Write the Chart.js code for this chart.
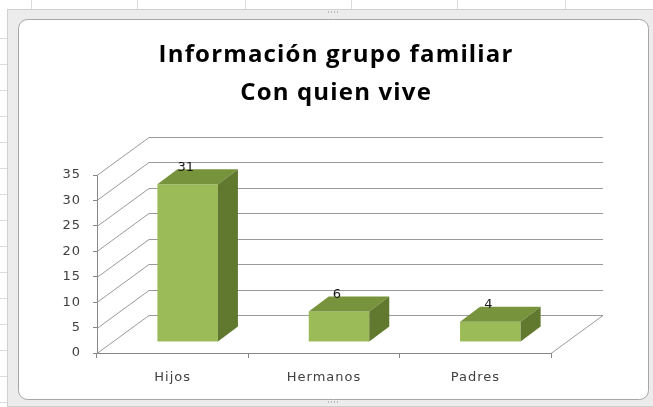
<!DOCTYPE html>
<html>
<head>
<meta charset="utf-8">
<script src="https://cdn.jsdelivr.net/npm/chart.js@4.4.1/dist/chart.umd.min.js"></script>
<style>
  html, body { margin: 0; padding: 0; background: #fff; }
  #chart { display: block; }
</style>
</head>
<body>
<canvas id="chart" width="653" height="407"></canvas>
<script>
// data
var categories = ['Hijos', 'Hermanos', 'Padres'];
var values = [31, 6, 4];
var titleLines = ['Información grupo familiar', 'Con quien vive'];
var yMax = 35;
var yStep = 5;

// 3d look: wall depth, bar offset inside the floor, bar depth
var WALL = { dx: 52, dy: -38 };
var BAR_SHIFT = { dx: 15, dy: -11 };
var BAR_DEPTH = { dx: 20, dy: -15 };

var frontColor = '#9bbb59';
var topColor = '#77933c';
var sideColor = '#61792f';
var gridColor = '#9a9a9a';
var axisColor = '#868686';

function poly(ctx, pts, fill) {
  ctx.beginPath();
  ctx.moveTo(pts[0][0], pts[0][1]);
  for (var i = 1; i < pts.length; i++) ctx.lineTo(pts[i][0], pts[i][1]);
  ctx.closePath();
  ctx.fillStyle = fill;
  ctx.fill();
}

var framePlugin = {
  id: 'frame',
  beforeDraw: function(chart) {
    var ctx = chart.ctx;
    ctx.save();
    ctx.fillStyle = '#ffffff';
    ctx.fillRect(0, 0, chart.width, chart.height);
    // spreadsheet around the chart
    ctx.fillStyle = '#ececec';
    ctx.fillRect(7, 9, chart.width - 7, chart.height - 9);
    ctx.strokeStyle = '#dadada';
    ctx.lineWidth = 1;
    [31, 137, 245, 351, 457, 565].forEach(function(x) {
      ctx.beginPath(); ctx.moveTo(x + 0.5, 0); ctx.lineTo(x + 0.5, 9); ctx.stroke();
    });
    for (var y = 38; y < chart.height; y += 26) {
      ctx.beginPath(); ctx.moveTo(0, y + 0.5); ctx.lineTo(7, y + 0.5); ctx.stroke();
    }
    ctx.strokeStyle = '#d0d0d0';
    ctx.strokeRect(7.5, 9.5, chart.width, chart.height - 10);
    // chart box
    ctx.beginPath();
    ctx.roundRect(18.5, 19.5, 630, 380, 9);
    ctx.fillStyle = '#ffffff';
    ctx.fill();
    ctx.strokeStyle = '#a6a6a6';
    ctx.stroke();
    // little handles
    ctx.fillStyle = '#b8b8b8';
    [328, 331, 334, 337].forEach(function(x) {
      ctx.fillRect(x, 11, 1, 2);
      ctx.fillRect(x, 401, 1, 2);
    });
    ctx.restore();
    // excel spreads its axis text a little
    ctx.letterSpacing = '1px';
  },
  beforeDatasetsDraw: function(chart) {
    var ctx = chart.ctx;
    var area = chart.chartArea;
    var ys = chart.scales.y;
    ctx.save();
    ctx.strokeStyle = gridColor;
    ctx.lineWidth = 1;
    for (var v = 0; v <= yMax; v += yStep) {
      var py = Math.round(ys.getPixelForValue(v)) + 0.5;
      ctx.beginPath();
      ctx.moveTo(area.left, py);
      ctx.lineTo(area.left + WALL.dx, py + WALL.dy);
      ctx.lineTo(area.right + WALL.dx, py + WALL.dy);
      ctx.stroke();
    }
    // floor right edge
    var py0 = Math.round(ys.getPixelForValue(0)) + 0.5;
    ctx.beginPath();
    ctx.moveTo(area.right, py0);
    ctx.lineTo(area.right + WALL.dx, py0 + WALL.dy);
    ctx.stroke();
    ctx.restore();
  },
  beforeDatasetDraw: function(chart) {
    chart.ctx.save();
    chart.ctx.translate(BAR_SHIFT.dx, BAR_SHIFT.dy);
  },
  afterDatasetDraw: function(chart) {
    chart.ctx.restore();
  },
  afterDatasetsDraw: function(chart) {
    var ctx = chart.ctx;
    var meta = chart.getDatasetMeta(0);
    ctx.save();
    ctx.letterSpacing = '0px';
    meta.data.forEach(function(bar, i) {
      var p = bar.getProps(['x', 'y', 'base', 'width'], true);
      var L = p.x - p.width / 2 + BAR_SHIFT.dx;
      var R = p.x + p.width / 2 + BAR_SHIFT.dx;
      var T = p.y + BAR_SHIFT.dy;
      var B = p.base + BAR_SHIFT.dy;
      var dx = BAR_DEPTH.dx, dy = BAR_DEPTH.dy;
      poly(ctx, [[L, T], [R, T], [R + dx, T + dy], [L + dx, T + dy]], topColor);
      poly(ctx, [[R, T], [R + dx, T + dy], [R + dx, B + dy], [R, B]], sideColor);
      ctx.fillStyle = '#1a1a1a';
      ctx.font = '13px "DejaVu Sans"';
      ctx.textAlign = 'center';
      ctx.textBaseline = 'middle';
      ctx.fillText(String(values[i]), p.x + BAR_SHIFT.dx - 2, T - 17);
    });
    ctx.restore();
  },
  afterDraw: function(chart) {
    var ctx = chart.ctx;
    ctx.save();
    ctx.fillStyle = '#000000';
    ctx.font = 'bold 24px "Open Sans"';
    ctx.textAlign = 'center';
    ctx.textBaseline = 'alphabetic';
    // stretch the first line to the width it has in the picture
    ctx.letterSpacing = '0px';
    var w = ctx.measureText(titleLines[0]).width;
    var sp = Math.max(0, (355 - w) / titleLines[0].length);
    ctx.letterSpacing = sp.toFixed(2) + 'px';
    ctx.fillText(titleLines[0], 335.5 + sp / 2, 62);
    ctx.fillText(titleLines[1], 335.5 + sp / 2, 100);
    ctx.restore();
  }
};

new Chart(document.getElementById('chart'), {
  type: 'bar',
  data: {
    labels: categories,
    datasets: [{
      data: values,
      backgroundColor: frontColor,
      borderWidth: 0,
      barPercentage: 0.4,
      categoryPercentage: 1,
      clip: false
    }]
  },
  options: {
    responsive: false,
    devicePixelRatio: 1,
    animation: false,
    layout: { padding: { left: 0, top: 175, right: 102, bottom: 0 } },
    plugins: {
      legend: { display: false },
      title: { display: false },
      tooltip: { enabled: false }
    },
    scales: {
      y: {
        min: 0,
        max: yMax,
        afterFit: function(scale) { scale.width = 97; },
        ticks: {
          stepSize: yStep,
          padding: 12,
          color: '#404040',
          font: { family: 'DejaVu Sans', size: 13 }
        },
        grid: { drawOnChartArea: false, tickLength: 4, color: axisColor },
        border: { color: axisColor }
      },
      x: {
        afterFit: function(scale) { scale.height = 54; },
        ticks: {
          padding: 12,
          color: '#404040',
          font: { family: 'DejaVu Sans', size: 13 }
        },
        grid: { offset: true, drawOnChartArea: false, tickLength: 5, color: axisColor },
        border: { color: axisColor }
      }
    }
  },
  plugins: [framePlugin]
});
</script>
</body>
</html>
